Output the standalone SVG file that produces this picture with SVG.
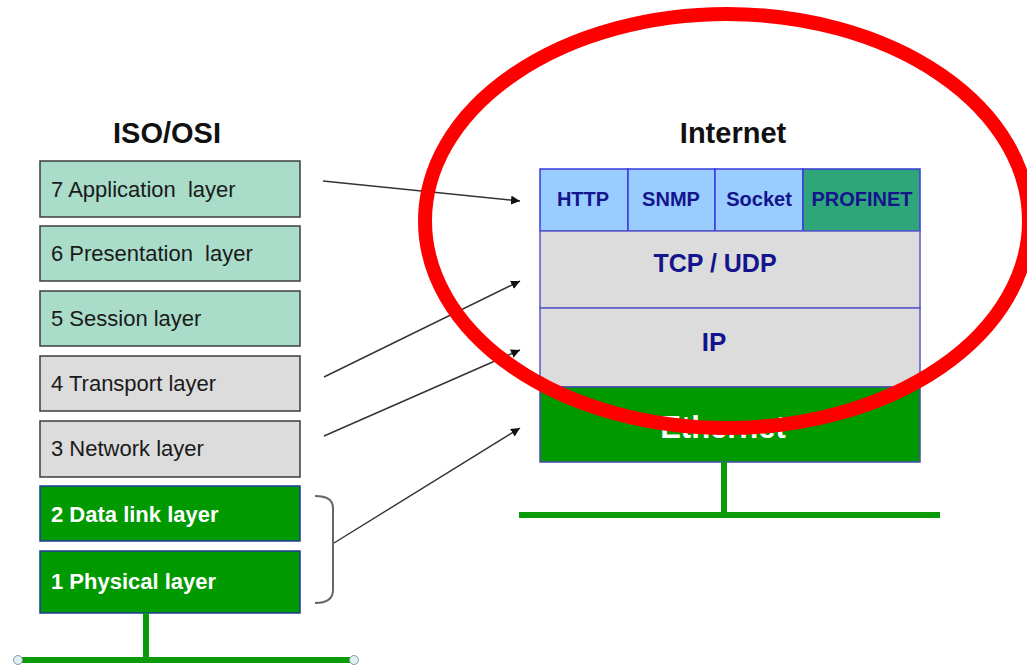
<svg xmlns="http://www.w3.org/2000/svg" width="1027" height="668" viewBox="0 0 1027 668">
  <style>
    .title { font-family: "Liberation Sans", Arial, sans-serif; font-weight: bold; font-size: 29px; fill: #111; text-anchor: middle; }
    .osi-lbl { font-family: "Liberation Sans", Arial, sans-serif; font-size: 22px; fill: #1a1a1a; white-space: pre; }
    .osi-lbl-w { font-family: "Liberation Sans", Arial, sans-serif; font-size: 22px; font-weight: bold; fill: #ffffff; }
    .teal { fill: #a9dcc9; stroke: #3c3c3c; stroke-width: 1.5; }
    .grey { fill: #dcdcdc; stroke: #3c3c3c; stroke-width: 1.5; }
    .green { fill: #009900; stroke: #1f3a9a; stroke-width: 1.5; }
    .app { fill: #99ccff; stroke: #3a3ae0; stroke-width: 1.5; }
    .pn { fill: #2ea67a; stroke: #3a3ae0; stroke-width: 1.5; }
    .stack { fill: #dcdcdc; stroke: #5a5ac8; stroke-width: 1.5; }
    .eth { fill: #009900; stroke: #4a4ab0; stroke-width: 1.5; }
    .inet-lbl { font-family: "Liberation Sans", Arial, sans-serif; font-weight: bold; fill: #14148c; text-anchor: middle; }
    .conn { stroke: #333; stroke-width: 1.4; fill: none; marker-end: url(#arrow); }
    .bus { stroke: #0a9a0a; stroke-width: 6; fill: none; }
  </style>
  <defs>
    <marker id="arrow" viewBox="0 0 10 10" refX="10" refY="5" markerWidth="9" markerHeight="9" markerUnits="userSpaceOnUse" orient="auto">
      <path d="M0,0 L10,5 L0,10 z" fill="#111"/>
    </marker>
  </defs>

  <rect width="1027" height="668" fill="#ffffff"/>

  <!-- ISO/OSI reference model -->
  <text class="title" x="167" y="143">ISO/OSI</text>
  <g id="osi-7"><rect class="teal" x="40" y="161" width="260" height="56"/><text class="osi-lbl" x="51" y="197">7 Application  layer</text></g>
  <g id="osi-6"><rect class="teal" x="40" y="226" width="260" height="55"/><text class="osi-lbl" x="51" y="261">6 Presentation  layer</text></g>
  <g id="osi-5"><rect class="teal" x="40" y="291" width="260" height="55"/><text class="osi-lbl" x="51" y="326">5 Session layer</text></g>
  <g id="osi-4"><rect class="grey" x="40" y="356" width="260" height="55"/><text class="osi-lbl" x="51" y="391">4 Transport layer</text></g>
  <g id="osi-3"><rect class="grey" x="40" y="421" width="260" height="56"/><text class="osi-lbl" x="51" y="456">3 Network layer</text></g>
  <g id="osi-2"><rect class="green" x="40" y="486" width="260" height="55"/><text class="osi-lbl-w" x="51" y="522">2 Data link layer</text></g>
  <g id="osi-1"><rect class="green" x="40" y="551" width="260" height="62"/><text class="osi-lbl-w" x="51" y="589">1 Physical layer</text></g>

  <!-- OSI physical medium -->
  <g id="osi-bus">
    <line class="bus" x1="146" y1="613" x2="146" y2="660"/>
    <line class="bus" x1="19" y1="660" x2="353" y2="660"/>
    <circle cx="18" cy="660" r="4.5" fill="#dff0f4" stroke="#8a9aa0" stroke-width="1"/>
    <circle cx="354" cy="660" r="4.5" fill="#dff0f4" stroke="#8a9aa0" stroke-width="1"/>
  </g>

  <!-- Internet protocol stack -->
  <text class="title" x="733" y="143">Internet</text>
  <g id="inet-http"><rect class="app" x="540" y="169" width="88" height="62"/><text class="inet-lbl" x="583" y="206" font-size="20">HTTP</text></g>
  <g id="inet-snmp"><rect class="app" x="628" y="169" width="87" height="62"/><text class="inet-lbl" x="671" y="206" font-size="20">SNMP</text></g>
  <g id="inet-socket"><rect class="app" x="715" y="169" width="88" height="62"/><text class="inet-lbl" x="759" y="206" font-size="20">Socket</text></g>
  <g id="inet-profinet"><rect class="pn" x="803" y="169" width="117" height="62"/><text class="inet-lbl" x="862" y="206" font-size="20">PROFINET</text></g>
  <g id="inet-tcpudp"><rect class="stack" x="540" y="231" width="380" height="77"/><text class="inet-lbl" x="715" y="272" font-size="25">TCP / UDP</text></g>
  <g id="inet-ip"><rect class="stack" x="540" y="308" width="380" height="79"/><text class="inet-lbl" x="714" y="351" font-size="26">IP</text></g>
  <g id="inet-ethernet"><rect class="eth" x="540" y="387" width="380" height="75"/><text x="723" y="438" font-family="Liberation Sans, Arial, sans-serif" font-weight="bold" font-size="31" fill="#ffffff" text-anchor="middle">Ethernet</text></g>

  <!-- Internet physical medium -->
  <g id="inet-bus">
    <line class="bus" x1="724" y1="462" x2="724" y2="515"/>
    <line class="bus" x1="519" y1="515" x2="940" y2="515"/>
  </g>

  <!-- layer mapping connectors -->
  <g id="connectors">
    <path d="M315,496 Q333,496 333,508 L333,590 Q333,603 315,603" fill="none" stroke="#666" stroke-width="2"/>
    <line class="conn" x1="323" y1="181" x2="520" y2="201"/>
    <line class="conn" x1="324" y1="377" x2="520" y2="281"/>
    <line class="conn" x1="324" y1="436" x2="520" y2="350"/>
    <line class="conn" x1="334" y1="543" x2="520" y2="428"/>
  </g>

  <!-- highlight ring -->
  <ellipse cx="727" cy="221" rx="302" ry="207" fill="none" stroke="#ff0000" stroke-width="14"/>
</svg>
